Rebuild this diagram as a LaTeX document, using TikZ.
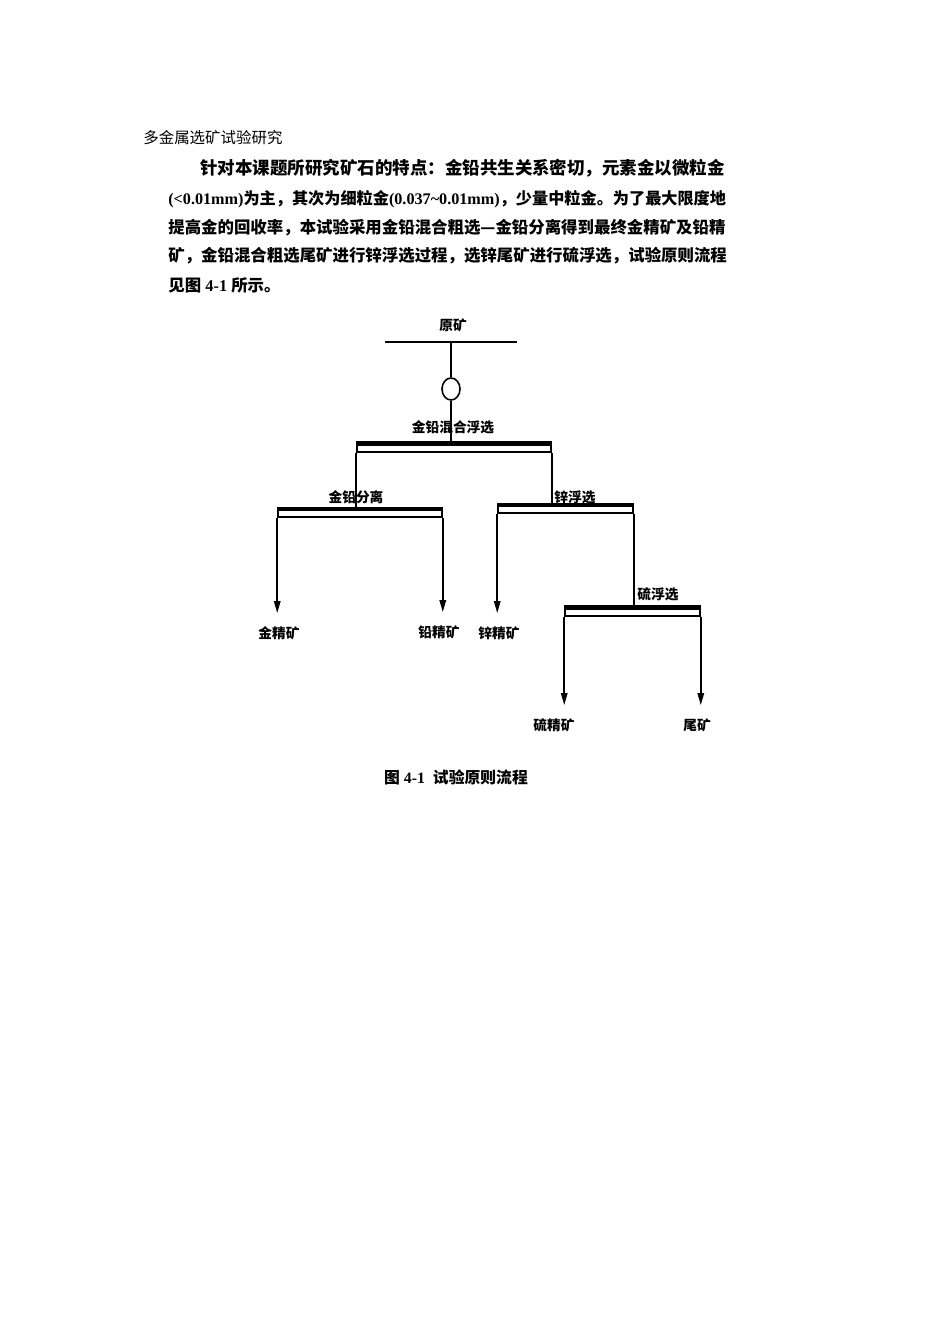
\documentclass[tikz,border=0pt]{standalone}
\usepackage{fontspec}
\setmainfont{Liberation Serif}
\newfontfamily\cjk{Noto Sans CJK SC}
\usetikzlibrary{arrows.meta,shapes.geometric}

\begin{document}
\begin{tikzpicture}[x=0.02cm, y=-0.02cm,
  lbl/.style={font=\cjk\bfseries\fontsize{7.8}{9}\selectfont, inner sep=0pt},
  txt/.style={anchor=west, inner sep=0pt, font=\bfseries\fontsize{9.35}{11}\selectfont},
  cell/.style={draw, line width=0.9pt, inner sep=0pt, minimum height=0.15cm},
  flow/.style={line width=0.9pt, -{Triangle[length=0.24cm,width=0.13cm]}, shorten >=0.26cm}]
\fill[white] (0,0) rectangle (950,1344);
\useasboundingbox (0,0) rectangle (950,1344);

% page text
\node[anchor=west, inner sep=0pt, font=\cjk\fontsize{8.8}{10}\selectfont] (head) at (143,138) {多金属选矿试验研究};
\node[txt, font=\bfseries\fontsize{9.95}{11}\selectfont] (par1) at (200,168) {\cjk 针对本课题所研究矿石的特点：金铅共生关系密切，元素金以微粒金};
\node[txt, font=\bfseries\fontsize{9.2}{11}\selectfont] (par2) at (168,199) {(<0.01mm){\cjk 为主，其次为细粒金}(0.037\textasciitilde 0.01mm){\cjk ，少量中粒金。为了最大限度地}};
\node[txt] (par3) at (168,228) {\cjk 提高金的回收率，本试验采用金铅混合粗选—金铅分离得到最终金精矿及铅精};
\node[txt] (par4) at (168,256) {\cjk 矿，金铅混合粗选尾矿进行锌浮选过程，选锌尾矿进行硫浮选，试验原则流程};
\node[txt] (par5) at (168,285) {{\cjk 见图} 4-1 {\cjk 所示。}};

% feed
\node[lbl] (ore) at (453,325) {原矿};
\coordinate (feedL) at (385,342);
\coordinate (feedR) at (517,342);
\coordinate (feedC) at (451,342);
\draw[line width=0.9pt] (feedL) -- (feedR);
\node[draw, line width=0.9pt, ellipse, inner sep=0pt, minimum width=0.36cm, minimum height=0.44cm] (mill) at (451,389) {};
\draw[line width=0.9pt] (feedC) -- (mill.north);

% flotation cells
\node[cell, minimum width=3.88cm] (rough) at (454,448) {};
\node[cell, minimum width=3.28cm] (sep) at (360,513.5) {};
\node[cell, minimum width=2.7cm] (zinc) at (565.5,509.5) {};
\node[cell, minimum width=2.7cm] (sulf) at (632.5,612) {};
\foreach \c in {rough,sep,zinc,sulf}
  \draw[line width=2.5pt] (\c.north west) -- (\c.north east);

\node[lbl] (roughlbl) at (453,427) {金铅混合浮选};
\node[lbl] (seplbl) at (356,497) {金铅分离};
\node[lbl] (zinclbl) at (575,497) {锌浮选};
\node[lbl] (sulflbl) at (658,594) {硫浮选};

\draw[line width=0.9pt] (mill.south) -- (mill.south |- rough.north);
\draw[line width=0.9pt] (rough.south west) -- (rough.south west |- sep.north);
\draw[line width=0.9pt] (rough.south east) -- (rough.south east |- zinc.north);
\draw[line width=0.9pt] (zinc.south east) -- (zinc.south east |- sulf.north);

% products
\node[lbl] (au) at (279,633) {金精矿};
\node[lbl] (pb) at (439,632) {铅精矿};
\node[lbl] (zn) at (499,633) {锌精矿};
\node[lbl] (s) at (554,725) {硫精矿};
\node[lbl] (tail) at (697,725) {尾矿};

\draw[flow] (sep.south west) -- (sep.south west |- au.north);
\draw[flow] (sep.south east) -- (sep.south east |- pb.north);
\draw[flow] (zinc.south west) -- (zinc.south west |- zn.north);
\draw[flow] (sulf.south west) -- (sulf.south west |- s.north);
\draw[flow] (sulf.south east) -- (sulf.south east |- tail.north);

\node[font=\bfseries\fontsize{9}{10}\selectfont, inner sep=0pt] (cap) at (456,777) {{\cjk 图} 4-1\ \ {\cjk 试验原则流程}};
\end{tikzpicture}
\end{document}
